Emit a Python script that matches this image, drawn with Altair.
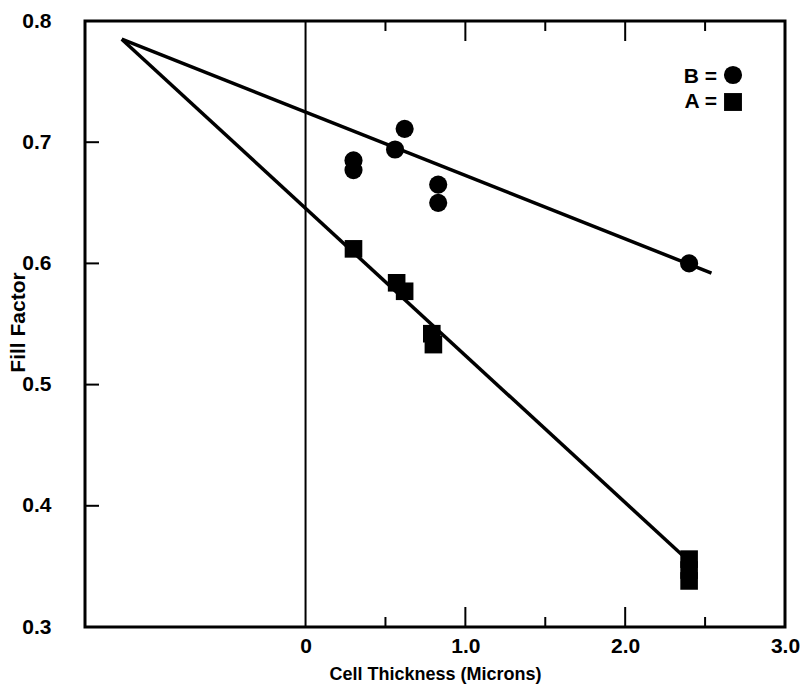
import altair as alt
import pandas as pd

# ---- data ----
b_x = [0.30, 0.30, 0.56, 0.62, 0.83, 0.83, 2.40]
b_y = [0.685, 0.677, 0.694, 0.711, 0.665, 0.650, 0.600]

a_x = [0.30, 0.57, 0.62, 0.79, 0.80, 2.40, 2.40, 2.40]
a_y = [0.612, 0.584, 0.577, 0.542, 0.533, 0.356, 0.347, 0.338]

fit_b_x = [-1.15, 2.54]
fit_b_y = [0.785, 0.592]
fit_a_x = [-1.15, 2.36]
fit_a_y = [0.785, 0.359]

x_label_values = [0, 1, 2, 3]
y_label_values = [0.3, 0.4, 0.5, 0.6, 0.7, 0.8]
x_tick_values = [0.5, 1.0, 1.5, 2.0, 2.5]
x_tick_major = [False, True, False, True, False]
y_tick_values = [0.4, 0.5, 0.6, 0.7]

legend_labels = ["B =", "A ="]

W, H = 700, 606
FONT = "Liberation Sans"

xscale = alt.Scale(domain=[-1.38, 3.0], nice=False, zero=False)
yscale = alt.Scale(domain=[0.3, 0.8], nice=False, zero=False)

df_b = pd.DataFrame({"x": b_x, "y": b_y})
df_a = pd.DataFrame({"x": a_x, "y": a_y})
df_fit_b = pd.DataFrame({"x": fit_b_x, "y": fit_b_y})
df_fit_a = pd.DataFrame({"x": fit_a_x, "y": fit_a_y})
df_xt = pd.DataFrame({"v": x_tick_values, "major": x_tick_major})
df_yt = pd.DataFrame({"v": y_tick_values})

x_axis = alt.Axis(
    values=x_label_values,
    labelExpr="datum.value == 0 ? '0' : format(datum.value, '.1f')",
    title="Cell Thickness (Microns)",
    ticks=False, grid=False, domain=False,
    labelFlush=False, labelOverlap=False, labelPadding=8,
    labelFont=FONT, labelFontSize=21, labelFontWeight="bold", labelColor="black",
    titleFont=FONT, titleFontSize=18, titleFontWeight="bold", titleColor="black",
    titlePadding=9,
)
y_axis = alt.Axis(
    values=y_label_values,
    format=".1f",
    title="Fill Factor",
    ticks=False, grid=False, domain=False,
    labelFlush=False, labelOverlap=False, labelPadding=34,
    labelFont=FONT, labelFontSize=21, labelFontWeight="bold", labelColor="black",
    titleFont=FONT, titleFontSize=21, titleFontWeight="bold", titleColor="black",
    titleX=-57, titleY=301,
)

X = alt.X("x:Q", scale=xscale, axis=x_axis)
Y = alt.Y("y:Q", scale=yscale, axis=y_axis)

zero_line = alt.Chart(pd.DataFrame({"x": [0]})).mark_rule(
    color="black", strokeWidth=2
).encode(x=alt.X("x:Q", scale=xscale), y=alt.value(0), y2=alt.value(H))

line_b = alt.Chart(df_fit_b).mark_line(color="black", strokeWidth=3.5).encode(x=X, y=Y)
line_a = alt.Chart(df_fit_a).mark_line(color="black", strokeWidth=3.5).encode(x=X, y=Y)

pts_b = alt.Chart(df_b).mark_point(
    shape="circle", filled=True, color="black", opacity=1, size=330
).encode(x=X, y=Y)
pts_a = alt.Chart(df_a).mark_point(
    shape="square", filled=True, color="black", opacity=1, size=310
).encode(x=X, y=Y)

# inward ticks
xt_bottom = alt.Chart(df_xt).transform_calculate(
    y0=str(H), y1=f"{H} - (datum.major ? 20 : 10)"
).mark_rule(color="black", strokeWidth=2).encode(
    x=alt.X("v:Q", scale=xscale),
    y=alt.Y("y0:Q", scale=None),
    y2="y1:Q",
)
xt_top = alt.Chart(df_xt).transform_calculate(
    y0="0", y1="datum.major ? 20 : 10"
).mark_rule(color="black", strokeWidth=2).encode(
    x=alt.X("v:Q", scale=xscale),
    y=alt.Y("y0:Q", scale=None),
    y2="y1:Q",
)
yt_left = alt.Chart(df_yt).mark_rule(color="black", strokeWidth=2).encode(
    y=alt.Y("v:Q", scale=yscale),
    x=alt.value(0),
    x2=alt.value(14),
)

# legend
leg_text_b = alt.Chart(pd.DataFrame({"label": [legend_labels[0]]})).mark_text(
    align="right", baseline="middle", font=FONT, fontSize=21, fontWeight="bold", color="black"
).encode(text="label:N", x=alt.value(632), y=alt.value(56))
leg_text_a = alt.Chart(pd.DataFrame({"label": [legend_labels[1]]})).mark_text(
    align="right", baseline="middle", font=FONT, fontSize=21, fontWeight="bold", color="black"
).encode(text="label:N", x=alt.value(632), y=alt.value(81))
leg_circle = alt.Chart(pd.DataFrame({"k": [1]})).mark_point(
    shape="circle", filled=True, color="black", opacity=1, size=330
).encode(x=alt.value(648), y=alt.value(54))
leg_square = alt.Chart(pd.DataFrame({"k": [1]})).mark_point(
    shape="square", filled=True, color="black", opacity=1, size=320
).encode(x=alt.value(648), y=alt.value(81))

chart = alt.layer(
    zero_line, line_b, line_a, pts_b, pts_a, xt_bottom, xt_top, yt_left,
    leg_text_b, leg_text_a, leg_circle, leg_square,
).properties(
    width=W, height=H,
    padding={"left": 85, "top": 21, "right": 21, "bottom": 63},
    autosize=alt.AutoSizeParams(type="none"),
    background="white",
).configure_view(
    stroke="black", strokeWidth=3
)

chart.save("out.html", embed_options={"renderer": "svg", "actions": False})
